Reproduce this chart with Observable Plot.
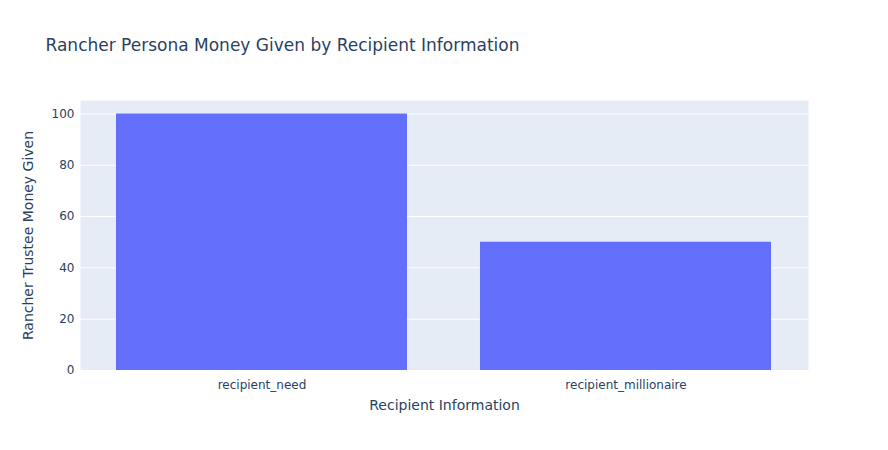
<!DOCTYPE html>
<html>
<head>
<meta charset="utf-8">
<script src="https://cdn.jsdelivr.net/npm/d3@7"></script>
<script src="https://cdn.jsdelivr.net/npm/@observablehq/plot@0.6"></script>
<style>
  html, body { margin: 0; padding: 0; background: white; }
</style>
</head>
<body>
<div id="chart"></div>
<script>
const categories = ["recipient_need", "recipient_millionaire"];
const values = [100, 50];
const yTicks = [0, 20, 40, 60, 80, 100];
const titleText = "Rancher Persona Money Given by Recipient Information";
const xLabel = "Recipient Information";
const yLabel = "Rancher Trustee Money Given";

const data = categories.map((c, i) => ({category: c, value: values[i]}));
const ink = "#2a3f5f";

const chart = Plot.plot({
  width: 888,
  height: 450,
  marginTop: 100,
  marginRight: 80,
  marginBottom: 80,
  marginLeft: 80,
  style: {fontFamily: "'DejaVu Sans', sans-serif", color: ink, background: "white", fontSize: "12px"},
  x: {domain: categories, paddingInner: 0.2, paddingOuter: 0.1, label: null},
  y: {domain: [0, 105.263], label: null},
  marks: [
    Plot.frame({fill: "#E5ECF6", stroke: null}),
    Plot.gridY(yTicks, {stroke: "white", strokeOpacity: 1, strokeWidth: 1}),
    Plot.barY(data, {x: "category", y: "value", fill: "#636efa"}),
    Plot.axisY(yTicks, {tickSize: 0, tickPadding: 6, label: null, fontSize: 12, fill: ink}),
    Plot.axisX({tickSize: 0, tickPadding: 10, label: null, fontSize: 12, fill: ink}),
    Plot.text([titleText], {frameAnchor: "top-left", dx: -35, dy: -55, textAnchor: "start", lineAnchor: "middle", fontSize: 17, fill: ink}),
    Plot.text([xLabel], {frameAnchor: "bottom", dy: 35, textAnchor: "middle", lineAnchor: "middle", fontSize: 14, fill: ink}),
    Plot.text([yLabel], {frameAnchor: "left", dx: -52, rotate: -90, textAnchor: "middle", lineAnchor: "middle", fontSize: 14, fill: ink})
  ]
});
document.getElementById("chart").appendChild(chart);
</script>
</body>
</html>
